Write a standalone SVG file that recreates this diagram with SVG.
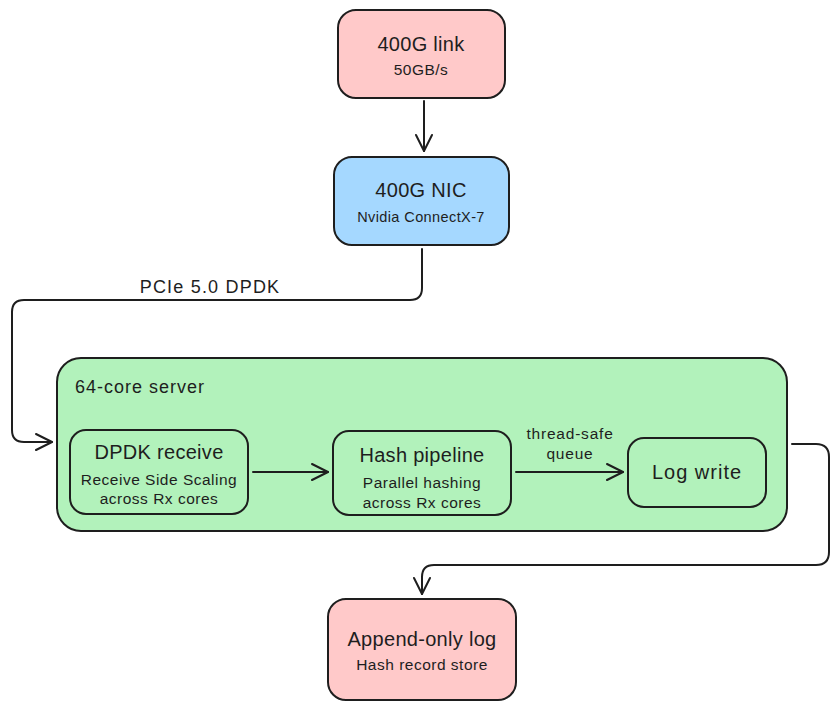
<svg xmlns="http://www.w3.org/2000/svg" width="839" height="711" viewBox="0 0 839 711">
<defs>
<style>
.box{stroke:#1e1e1e;stroke-width:2;}
.t{font-family:"Liberation Sans",Arial,sans-serif;fill:#1e1e1e;text-anchor:middle;}
.h{font-size:20px;letter-spacing:0.3px;}
.s{font-size:15.5px;letter-spacing:0.5px;}
.c{fill:none;stroke:#1e1e1e;stroke-width:2;stroke-linecap:round;stroke-linejoin:round;}
</style>
<marker id="ah" viewBox="0 0 20 20" refX="18" refY="10" markerWidth="20" markerHeight="20" markerUnits="userSpaceOnUse" orient="auto">
<path d="M2,2 L18,10 L2,18" fill="none" stroke="#1e1e1e" stroke-width="2" stroke-linecap="round" stroke-linejoin="round"/>
</marker>
</defs>
<rect width="839" height="711" fill="#ffffff"/>
<g id="server">
<rect class="box" x="57" y="358" width="730" height="173" rx="24" fill="#b2f2bb"/>
<text class="t" x="75" y="393" style="text-anchor:start;font-size:18px;letter-spacing:1px">64-core server</text>
</g>
<g id="link">
<rect class="box" x="338" y="10" width="167" height="88" rx="18" fill="#ffc9c9"/>
<text class="t h" x="421" y="51">400G link</text>
<text class="t s" x="421" y="75">50GB/s</text>
</g>
<g id="nic">
<rect class="box" x="334" y="157" width="175" height="88" rx="18" fill="#a5d8ff"/>
<text class="t h" x="421" y="197">400G NIC</text>
<text class="t" x="421" y="222" style="font-size:14.5px;letter-spacing:0.4px">Nvidia ConnectX-7</text>
</g>
<g id="dpdk">
<rect class="box" x="70" y="430" width="178" height="84" rx="16" fill="#b2f2bb"/>
<text class="t h" x="159" y="459">DPDK receive</text>
<text class="t s" x="159" y="485">Receive Side Scaling</text>
<text class="t s" x="159" y="504">across Rx cores</text>
</g>
<g id="hash">
<rect class="box" x="333" y="431" width="178" height="84" rx="16" fill="#b2f2bb"/>
<text class="t h" x="422" y="462">Hash pipeline</text>
<text class="t s" x="422" y="488">Parallel hashing</text>
<text class="t s" x="422" y="508">across Rx cores</text>
</g>
<g id="logwrite">
<rect class="box" x="628" y="438" width="138" height="69" rx="16" fill="#b2f2bb"/>
<text class="t h" x="697" y="479" style="letter-spacing:1px">Log write</text>
</g>
<g id="appendlog">
<rect class="box" x="328" y="599" width="188" height="101" rx="18" fill="#ffc9c9"/>
<text class="t h" x="422" y="646">Append-only log</text>
<text class="t s" x="422" y="670">Hash record store</text>
</g>
<g id="connectors">
<path class="c" d="M424,101 L424,151" marker-end="url(#ah)"/>
<path class="c" d="M422,249 L422,288 Q422,300 410,300 L24,300 Q12,300 12,312 L12,430 Q12,442 24,442 L52,442" marker-end="url(#ah)"/>
<text class="t" x="210" y="293" style="font-size:18px;letter-spacing:1.2px">PCIe 5.0 DPDK</text>
<path class="c" d="M253,472 L328,472" marker-end="url(#ah)"/>
<path class="c" d="M516,472 L623,472" marker-end="url(#ah)"/>
<text class="t s" x="570" y="439" style="letter-spacing:0.8px">thread-safe</text>
<text class="t s" x="570" y="459" style="letter-spacing:0.8px">queue</text>
<path class="c" d="M792,444 L816,444 Q829,444 829,457 L829,552 Q829,565 816,565 L434,565 Q422,565 422,577 L422,594" marker-end="url(#ah)"/>
</g>
</svg>
